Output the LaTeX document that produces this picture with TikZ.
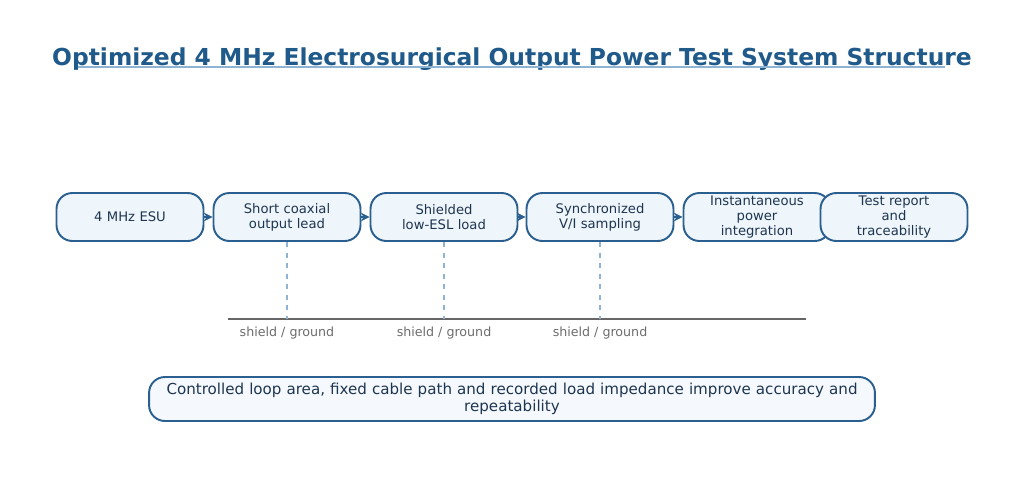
\documentclass[tikz,border=0pt]{standalone}
\usepackage{fontspec}
\setmainfont{DejaVu Sans}
\usetikzlibrary{arrows.meta}
\definecolor{navy}{HTML}{1F5A8A}
\definecolor{boxline}{HTML}{2A5F8F}
\definecolor{boxfill}{HTML}{EEF5FB}
\definecolor{notefill}{HTML}{F5F9FD}
\definecolor{txt}{HTML}{1E3550}
\definecolor{tapblue}{HTML}{8FB3D2}
\begin{document}
\begin{tikzpicture}[x=0.02cm,y=-0.02cm]
\useasboundingbox (0,0) rectangle (1024,488);

\tikzset{Stage/.style={draw=boxline, line width=1.1pt, fill=boxfill, rounded corners=9pt,
    minimum width=2.94cm, minimum height=0.96cm, text width=2.7cm, align=center,
    font=\fontsize{7.5}{8.5}\selectfont, text=txt, inner sep=1pt},
  Link/.style={-{Stealth[length=5pt,width=5pt]}, draw=boxline, line width=1.5pt},
  Tap/.style={draw=tapblue, dashed, line width=0.8pt},
  GroundLabel/.style={font=\fontsize{7.2}{8}\selectfont, text=gray!85!black}}

% Title
\node (T) at (512,59) [font=\fontsize{13.3}{15}\selectfont\bfseries, text=navy] 
    {Optimized 4 MHz Electrosurgical Output Power Test System Structure};
\draw [tapblue, line width=0.8pt] (78,67) -- (945,67);

% Stages
\node (A) at (130,217) [Stage] {4 MHz ESU};
\node (B) at (287,217) [Stage] {Short coaxial\\output lead};
\node (C) at (444,217) [Stage] {Shielded\\low-ESL load};
\node (D) at (600,217) [Stage] {Synchronized\\V/I sampling};
\node (E) at (757,217) [Stage] {Instantaneous\\power\\integration};
\node (F) at (894,217) [Stage] {Test report\\and\\traceability};

\foreach \s/\t in {A/B, B/C, C/D, D/E}
    \draw [Link] (\s.east) -- (\t.west);

% Ground rail
\coordinate (G1) at (228,319);
\coordinate (G2) at (806,319);
\draw [gray!80!black, line width=1.1pt] (G1) -- (G2);
\foreach \n in {B, C, D} {
    \draw [Tap] (\n.south) -- (\n.south |- G1);
    \node (L\n) at ([yshift=-0.28cm]\n.south |- G1) [GroundLabel] {shield / ground};
}

% Note
\node (N) at (512,399) [draw=boxline, line width=1.1pt, fill=notefill, rounded corners=9pt,
    minimum width=14.52cm, minimum height=0.88cm, text width=14cm, align=center,
    font=\fontsize{8.6}{9.6}\selectfont, text=txt, inner sep=1pt]
    {Controlled loop area, fixed cable path and recorded load impedance improve accuracy and\\repeatability};
\end{tikzpicture}
\end{document}
